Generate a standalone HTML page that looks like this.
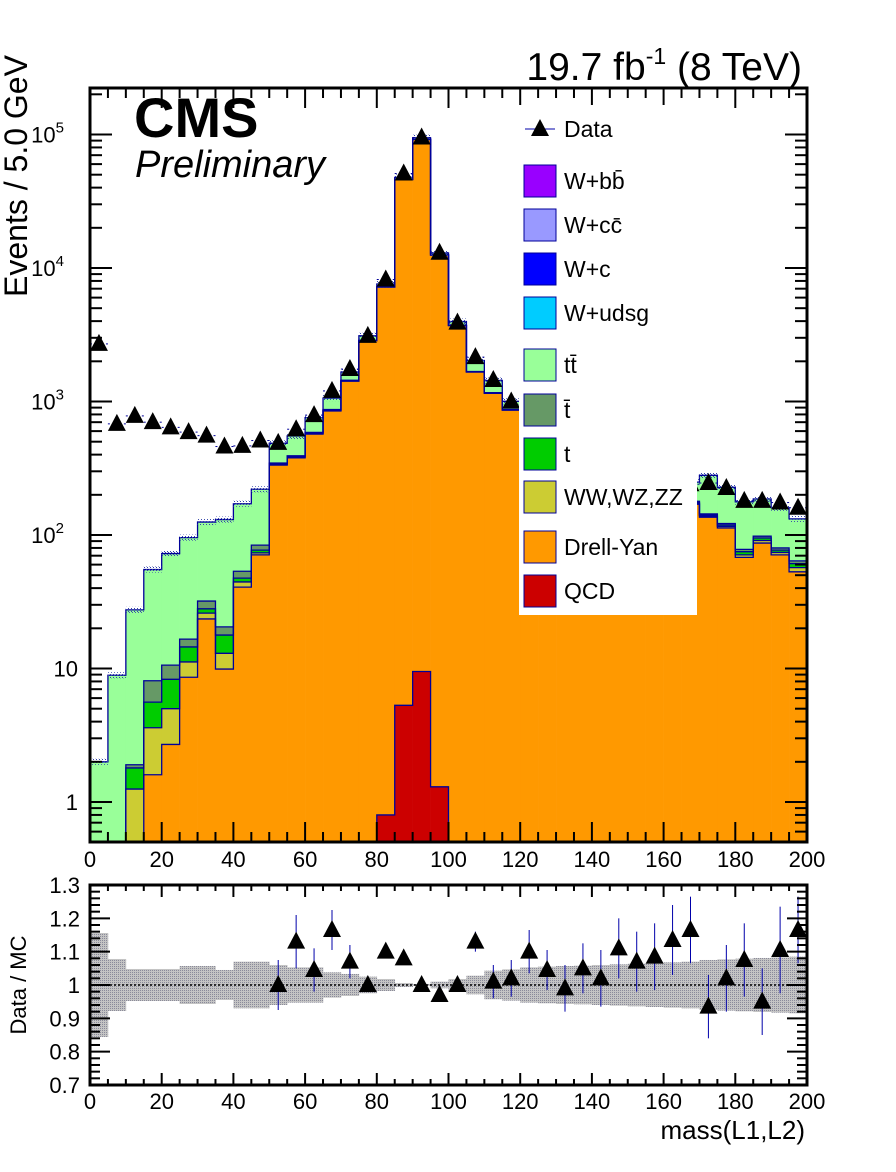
<!DOCTYPE html>
<html><head><meta charset="utf-8"><style>
html,body{margin:0;padding:0;background:#fff;}
svg{display:block;font-family:"Liberation Sans",Arial,sans-serif;}
</style></head><body>
<svg id="chart" width="896" height="1172" viewBox="0 0 896 1172" xmlns="http://www.w3.org/2000/svg">
<defs>
<pattern id="hatch" width="3" height="3" patternUnits="userSpaceOnUse"><rect width="1" height="1" fill="#3344aa"/><rect x="2" y="2" width="1" height="1" fill="#3344aa"/></pattern>
<pattern id="grayhatch" width="2" height="2" patternUnits="userSpaceOnUse"><rect width="2" height="2" fill="#c4c4c4"/><rect width="1" height="1" fill="#8a8a9a"/></pattern>
<clipPath id="mainclip"><rect x="90" y="88" width="717" height="754"/></clipPath>
</defs>
<g id="main-stack" clip-path="url(#mainclip)"></g>
<g id="main-data"></g>
<g id="ratio-layer"></g>
<g id="axes"></g>
<text x="802" y="80" text-anchor="end" font-size="39">19.7 fb<tspan font-size="23" dy="-16">-1</tspan><tspan dy="16"> (8 TeV)</tspan></text>
<text x="134" y="137" font-size="56" font-weight="bold">CMS</text>
<text x="135" y="177" font-size="38" font-style="italic">Preliminary</text>
<text transform="translate(27,176) rotate(-90)" text-anchor="middle" font-size="32">Events / 5.0 GeV</text>
<text transform="translate(26,985) rotate(-90)" text-anchor="middle" font-size="22">Data / MC</text>
<text x="805" y="1139" text-anchor="end" font-size="26">mass(L1,L2)</text>
<g id="legend"></g>
</svg>
<script>
// ---- data (40 bins of 5 GeV, 0-200) ----
const binEdges0 = 0, binWidth = 5, nBins = 40;
const qcd  = [0,0,0,0,0,0,0,0,0,0, 0,0,0,0,0,0,0.8,5.3,9.5,1.3, 0,0,0,0,0,0,0,0,0,0, 0,0,0,0,0,0,0,0,0,0];
const dy   = [0,0,0,1.6,2.7,8.6,23.5,9.9,40.7,71, 334,378,570,850,1420,2850,7200,46000,92000,12500, 3700,1660,1150,860,700,560,450,380,330,290, 260,230,200,170,136,113,68,87,71,53];
const vv   = [0,0,1.25,2.0,2.3,2.6,2.5,3.1,3.8,2.5, 4,5,6,8,10,12,15,40,60,20, 10,8,6,5,5,4,4,4,3,3, 3,3,3,3,3,3,3,4,3,4];
const tq   = [0,0,0.55,2.0,3.3,3.3,2.0,4.8,3.0,3.5, 3,4,5,6,6,6,6,10,12,6, 5,4,4,4,3,3,3,3,3,3, 3,3,3,3,2,3,4,4,3,4];
const tbar = [0,0,0.1,2.5,2.3,2.1,4.0,2.7,6.0,7.0, 5,5,6,7,7,7,8,12,14,8, 6,5,5,4,4,3,3,3,3,3, 3,3,3,3,3,3,3,3,3,3];
const ttbar= [2.0,8.9,25.6,47,62,79,93,110,118,136, 140,160,170,190,220,230,350,1600,2500,400, 250,350,270,130,120,110,100,95,90,85, 80,75,72,70,136,106,99,88,80,68];
const dataVals = [2700,680,780,700,640,590,555,460,465,510, 490,620,790,1200,1750,3100,8200,51000,95000,13000, 3900,2150,1450,1000,820,680,560,470,410,360, 320,285,255,240,245,225,180,180,175,160];
const ratioVals = [null,null,null,null,null,null,null,null,null,null, 1.00,1.13,1.045,1.165,1.07,1.00,1.10,1.08,1.00,0.97, 1.00,1.13,1.01,1.02,1.10,1.045,0.99,1.05,1.02,1.11, 1.07,1.085,1.135,1.165,0.935,1.02,1.075,0.95,1.105,1.165];
const ratioErr = [0,0,0,0,0,0,0,0,0,0, 0.075,0.08,0.065,0.06,0.05,0.015,0.005,0.005,0.003,0.01, 0.02,0.03,0.05,0.055,0.065,0.06,0.07,0.075,0.085,0.09, 0.09,0.1,0.105,0.1,0.095,0.1,0.11,0.1,0.13,0.1];
const bandHalf = [0.156,0.078,0.048,0.048,0.048,0.057,0.057,0.045,0.07,0.07, 0.06,0.053,0.053,0.038,0.033,0.025,0.018,0.006,0.003,0.01, 0.018,0.028,0.043,0.047,0.053,0.055,0.057,0.058,0.06,0.062, 0.064,0.066,0.068,0.07,0.075,0.077,0.079,0.081,0.083,0.085];
const xTicks = [0,20,40,60,80,100,120,140,160,180,200];
const yDecades = [1,10,100,1000,10000,100000];
const yDecadeLabels = ["1","10","10^2","10^3","10^4","10^5"];
const ratioTicks = [0.7,0.8,0.9,1,1.1,1.2,1.3];
const ratioTickLabels = ["0.7","0.8","0.9","1","1.1","1.2","1.3"];

const NS = "http://www.w3.org/2000/svg";
const X0 = 90, X1 = 807;
const xs = v => X0 + (v - 0) / 200 * (X1 - X0);
const ys = v => Math.min(842, 802 - 133.5 * Math.log10(Math.max(v, 1e-3)));
const ry = r => 885 + (1.3 - r) * 333.3;
function mk(tag, attrs, parent){ const e = document.createElementNS(NS, tag); for (const k in attrs) e.setAttribute(k, attrs[k]); parent.appendChild(e); return e; }

const stackG = document.getElementById('main-stack');
const comps = [
  {arr: qcd, color:'#cc0000', name:'qcd'},
  {arr: dy, color:'#ff9900', name:'drell-yan'},
  {arr: vv, color:'#cccc33', name:'diboson'},
  {arr: tq, color:'#00cc00', name:'single-top'},
  {arr: tbar, color:'#669966', name:'single-antitop'},
  {arr: ttbar, color:'#99ff99', name:'ttbar'}
];
// cumulative tops per component
const tops = comps.map(() => []);
const totals = [];
for (let i = 0; i < nBins; i++) {
  let cum = 0;
  const xa = xs(binEdges0 + i*binWidth), xb = xs(binEdges0 + (i+1)*binWidth);
  comps.forEach((c, k) => {
    const v = c.arr[i];
    if (v <= 0) { tops[k].push(null); return; }
    const lo = cum, hi = cum + v; cum = hi;
    tops[k].push(hi);
    const yt = ys(hi), yb = lo > 0 ? ys(lo) : 842;
    if (yb - yt <= 0) return;
    const r = mk('rect', {x: xa, y: yt, width: xb - xa + 0.3, height: yb - yt, fill: c.color}, stackG);
    
    
  });
  totals.push(cum);
}
// outlines (step histograms)
comps.forEach((c, k) => {
  let d = '', prevOn = false;
  for (let i = 0; i < nBins; i++) {
    const t = tops[k][i];
    const xa = xs(i*binWidth), xb = xs((i+1)*binWidth);
    if (t === null) { if (prevOn) d += ` L${xa},842`; prevOn = false; continue; }
    const y = ys(t);
    if (!prevOn) d += ` M${xa},842 L${xa},${y}`; else d += ` L${xa},${y}`;
    d += ` L${xb},${y}`;
    prevOn = true;
  }
  const p = mk('path', {d: d, fill: 'none', stroke: '#000099', 'stroke-width': 1.3}, stackG);
  
  
});
for (let i = 0; i < nBins; i++) {
  const xa = xs(i*binWidth), xb = xs((i+1)*binWidth);
  const hb = mk('rect', {x: xa, y: ys(totals[i]) - 3, width: xb - xa, height: 6, fill: 'url(#hatch)'}, stackG);
  
  
}
// data points
const dG = document.getElementById('main-data');
for (let i = 0; i < nBins; i++) {
  const cx = xs(binEdges0 + (i+0.5)*binWidth), cy = ys(dataVals[i]);
  if (cy >= 842) continue;
  mk('line', {x1: cx-9, x2: cx-7, y1: cy, y2: cy, stroke: '#000099', 'stroke-width': 1}, dG);
  mk('line', {x1: cx+7, x2: cx+9, y1: cy, y2: cy, stroke: '#000099', 'stroke-width': 1}, dG);
  const p = mk('polygon', {points: `${cx},${cy-10} ${cx-9},${cy+7} ${cx+9},${cy+7}`, fill: '#000'}, dG);
  
  
}
// ratio panel
const rG = document.getElementById('ratio-layer');
for (let i = 0; i < nBins; i++) {
  const xa = xs(i*binWidth), xb = xs((i+1)*binWidth);
  const b = mk('rect', {x: xa, y: ry(1 + bandHalf[i]), width: xb - xa + 0.3, height: ry(1 - bandHalf[i]) - ry(1 + bandHalf[i]), fill: 'url(#grayhatch)'}, rG);
  
  
}
mk('line', {x1: X0, x2: X1, y1: ry(1), y2: ry(1), stroke: '#000', 'stroke-width': 1.5, 'stroke-dasharray': '2,2'}, rG);
for (let i = 0; i < nBins; i++) {
  const r = ratioVals[i]; if (r === null) continue;
  const cx = xs((i+0.5)*binWidth), cy = ry(r);
  mk('line', {x1: cx, x2: cx, y1: ry(r + ratioErr[i]), y2: ry(r - ratioErr[i]), stroke: '#0000aa', 'stroke-width': 1}, rG);
  const p = mk('polygon', {points: `${cx},${cy-10} ${cx-9},${cy+7} ${cx+9},${cy+7}`, fill: '#000'}, rG);
  
  
}
// axes
const aG = document.getElementById('axes');
const f1 = mk('rect', {x: X0, y: 88, width: X1 - X0, height: 754, fill: 'none', stroke: '#000', 'stroke-width': 3}, aG);


const f2 = mk('rect', {x: X0, y: 885, width: X1 - X0, height: 200, fill: 'none', stroke: '#000', 'stroke-width': 3}, aG);


for (let v = 0; v <= 200; v += 5) {
  const x = xs(v), big = v % 20 === 0;
  const L = big ? 20 : 10;
  mk('line', {x1: x, x2: x, y1: 842, y2: 842 - L, stroke: '#000', 'stroke-width': 2}, aG);
  mk('line', {x1: x, x2: x, y1: 88, y2: 88 + L, stroke: '#000', 'stroke-width': 2}, aG);
  const L2 = big ? 12 : 6;
  mk('line', {x1: x, x2: x, y1: 1085, y2: 1085 - L2, stroke: '#000', 'stroke-width': 2}, aG);
  mk('line', {x1: x, x2: x, y1: 885, y2: 885 + L2, stroke: '#000', 'stroke-width': 2}, aG);
}
xTicks.forEach(v => {
  const t1 = mk('text', {x: xs(v), y: 867, 'text-anchor': 'middle', 'font-size': 22}, aG); t1.textContent = v;
   
  const t2 = mk('text', {x: xs(v), y: 1109, 'text-anchor': 'middle', 'font-size': 22}, aG); t2.textContent = v;
   
});
for (let e = -1; e <= 5; e++) {
  for (let m = 1; m <= 9; m++) {
    const v = m * Math.pow(10, e);
    const y = 802 - 133.5 * Math.log10(v);
    if (y > 842 || y < 88) continue;
    const L = m === 1 ? 22 : 12;
    mk('line', {x1: X0, x2: X0 + L, y1: y, y2: y, stroke: '#000', 'stroke-width': 2}, aG);
    mk('line', {x1: X1, x2: X1 - L, y1: y, y2: y, stroke: '#000', 'stroke-width': 2}, aG);
  }
}
yDecades.forEach((v, i) => {
  const y = ys(v) + 8;
  const lab = yDecadeLabels[i];
  const t = mk('text', {x: 78, y: y, 'text-anchor': 'end', 'font-size': 22}, aG);
   
  if (lab.indexOf('^') > 0) {
    const [b, p] = lab.split('^');
    t.textContent = b;
    const s = mk('tspan', {dy: -10, 'font-size': 15}, t); s.textContent = p;
    t.setAttribute('x', 64);
    t.setAttribute('text-anchor', 'end');
  } else t.textContent = lab;
});
for (let r = 0.7; r <= 1.3001; r += 0.02) {
  const y = ry(r); const big = Math.abs(Math.round(r*10) - r*10) < 1e-6;
  const L = big ? 20 : 10;
  mk('line', {x1: X0, x2: X0 + L, y1: y, y2: y, stroke: '#000', 'stroke-width': 2}, aG);
  mk('line', {x1: X1, x2: X1 - L, y1: y, y2: y, stroke: '#000', 'stroke-width': 2}, aG);
}
ratioTicks.forEach((v, i) => {
  const t = mk('text', {x: 80, y: ry(v) + 8, 'text-anchor': 'end', 'font-size': 22}, aG);
  t.textContent = ratioTickLabels[i];
   
});
// legend
const lg = document.getElementById('legend');
mk('rect', {x: 519, y: 105, width: 178, height: 510, fill: '#fff'}, lg);
const entries = [
  {label: 'Data', y: 129, data: true},
  {label: 'W+bb̄', y: 181, color: '#9900ff'},
  {label: 'W+cc̄', y: 225, color: '#9999ff'},
  {label: 'W+c', y: 269, color: '#0000ff'},
  {label: 'W+udsg', y: 313, color: '#00ccff'},
  {label: 'tt̄', y: 365, color: '#99ff99'},
  {label: 't̄', y: 410, color: '#669966'},
  {label: 't', y: 454, color: '#00cc00'},
  {label: 'WW,WZ,ZZ', y: 497, color: '#cccc33'},
  {label: 'Drell-Yan', y: 547, color: '#ff9900'},
  {label: 'QCD', y: 591, color: '#cc0000'}
];
entries.forEach(e => {
  if (e.data) {
    mk('line', {x1: 525, x2: 555, y1: e.y, y2: e.y, stroke: '#0000aa', 'stroke-width': 1}, lg);
    mk('polygon', {points: `540,${e.y-10} 531,${e.y+7} 549,${e.y+7}`, fill: '#000'}, lg);
  } else {
    mk('rect', {x: 524, y: e.y - 16, width: 32, height: 32, fill: e.color, stroke: '#000099', 'stroke-width': 1}, lg);
  }
  const t = mk('text', {x: 564, y: e.y + 8, 'font-size': 23}, lg);
  t.textContent = e.label;
  
  
});
</script>
</body></html>
